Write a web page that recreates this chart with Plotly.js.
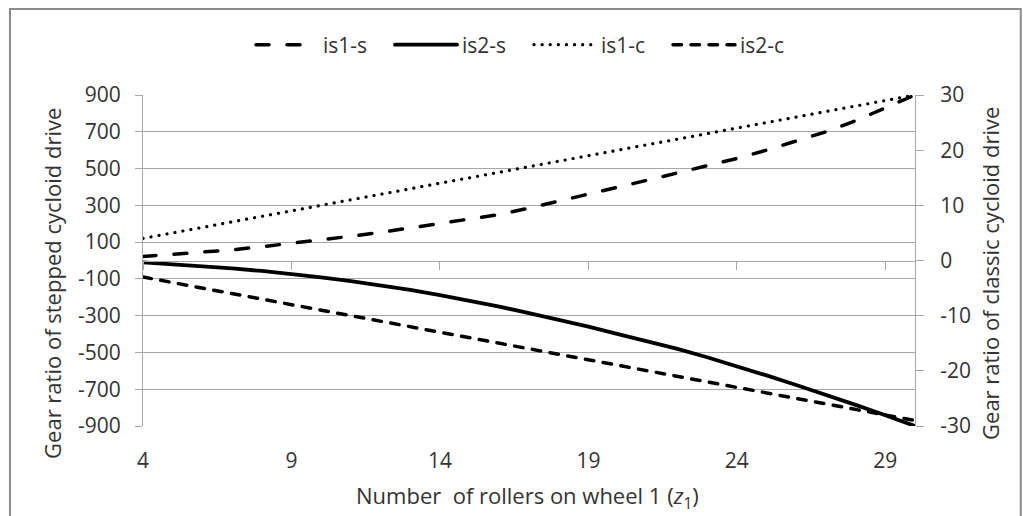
<!DOCTYPE html>
<html>
<head>
<meta charset="utf-8">
<script src="https://cdn.plot.ly/plotly-3.0.1.min.js"></script>
<style>
html,body{margin:0;padding:0;background:#fff;}
#chart{width:1023px;height:516px;}
path.js-line{stroke-linecap:round;}
</style>
</head>
<body>
<div id="chart"></div>
<script>
// Number of rollers on wheel 1 (z1)
const z1 = [4,5,6,7,8,9,10,11,12,13,14,15,16,17,18,19,20,21,22,23,24,25,26,27,28,29,30];
// stepped cycloid drive (left axis)
const is1s = [22,33,45,58,75,93,112,132,153,177,200,222,250,285,322,360,398,437,476,515,555,600,650,700,760,830,900];
const is2s = [-10,-20,-31,-43,-57,-73,-92,-112,-134,-160,-188,-218,-251,-286,-322,-360,-400,-440,-481,-526,-574,-625,-677,-730,-785,-842,-900];
// classic cycloid drive (right axis)
const is1c = [4,5,6,7,8,9,10,11,12,13,14,15,16,17,18,19,20,21,22,23,24,25,26,27,28,29,30];
const is2c = [-3,-4,-5,-6,-7,-8,-9,-10,-11,-12,-13,-14,-15,-16,-17,-18,-19,-20,-21,-22,-23,-24,-25,-26,-27,-28,-29];

const xTicks = [4,9,14,19,24,29];
const yLeftTicks = [-900,-700,-500,-300,-100,100,300,500,700,900];
const yLeftText = ["-900","-700","-500","-300","-100","100","300","500","700","900"];
const yRightTicks = [-30,-20,-10,0,10,20,30];
const yRightText = ["-30","-20","-10","0","10","20","30"];

const FONT = "Open Sans, Noto Sans, sans-serif";
const TXT = "#333333";
const GRID = "#a6a6a6";
const FS = 21;
const FT = 22;

const traces = [
  {x: z1, y: is1s, name: "is1-s", type: "scatter", mode: "lines", yaxis: "y",
   line: {color: "#000", width: 3.5, dash: "13px,18px"}},
  {x: z1, y: is2s, name: "is2-s", type: "scatter", mode: "lines", yaxis: "y",
   line: {color: "#000", width: 3.8}},
  {x: z1, y: is1c, name: "is1-c", type: "scatter", mode: "lines", yaxis: "y2",
   line: {color: "#000", width: 3.2, dash: "0.1px,8px"}},
  {x: z1, y: is2c, name: "is2-c", type: "scatter", mode: "lines", yaxis: "y2",
   line: {color: "#000", width: 3.5, dash: "8.5px,9.5px"}}
];

const layout = {
  width: 1023, height: 516,
  margin: {l: 143, r: 108, t: 95, b: 90, pad: 0},
  paper_bgcolor: "#fff", plot_bgcolor: "rgba(0,0,0,0)",
  font: {family: FONT, size: FS, color: TXT},
  showlegend: true,
  legend: {orientation: "h", x: 0.5, xanchor: "center", y: 1.151, yanchor: "middle",
           font: {family: FONT, size: FS, color: TXT}, itemwidth: 62,
           entrywidth: 62, entrywidthmode: "pixels", bgcolor: "rgba(0,0,0,0)"},
  xaxis: {range: [4, 30], tickvals: xTicks, ticktext: xTicks.map(String), showgrid: false,
          zeroline: false, showline: false, ticks: "", ticklabelstandoff: 20,
          tickfont: {family: FONT, size: FS, color: TXT}, fixedrange: true},
  xaxis2: {range: [4, 30], overlaying: "x", anchor: "free", position: 0.5, side: "bottom",
           tickvals: xTicks, showticklabels: false, ticks: "outside", ticklen: 8, tickwidth: 1,
           tickcolor: GRID, showline: true, linecolor: GRID, linewidth: 1, showgrid: false, zeroline: false},
  yaxis: {range: [-900, 900], tickvals: yLeftTicks, ticktext: yLeftText, showgrid: true, gridcolor: GRID, gridwidth: 1,
          zeroline: false, showline: true, linecolor: GRID, linewidth: 1, ticks: "outside",
          ticklen: 7, tickcolor: GRID, ticklabelstandoff: 10,
          tickfont: {family: FONT, size: FS, color: TXT}},
  yaxis2: {range: [-30, 30], tickvals: yRightTicks, ticktext: yRightText, overlaying: "y", side: "right", showgrid: false,
           zeroline: false, showline: true, linecolor: GRID, linewidth: 1, ticks: "outside",
           ticklen: 8, tickcolor: GRID, ticklabelstandoff: 12,
           tickfont: {family: FONT, size: FS, color: TXT}},
  annotations: [
    {text: "Gear ratio of stepped cycloid drive", xref: "paper", yref: "paper", x: -0.118, y: 0.432,
     xanchor: "center", yanchor: "middle",
     textangle: -90, showarrow: false, font: {family: FONT, size: FT, color: TXT}},
    {text: "Gear ratio of classic cycloid drive", xref: "paper", yref: "paper", x: 1.097, y: 0.462,
     xanchor: "center", yanchor: "middle",
     textangle: -90, showarrow: false, font: {family: FONT, size: FT, color: TXT}},
    {text: "Number\u00A0\u00A0of rollers on wheel 1 (<i>z</i><sub>1</sub>)", xref: "paper", yref: "paper",
     x: 0.4987, y: -0.2145, xanchor: "center", yanchor: "middle",
     showarrow: false, font: {family: FONT, size: FT, color: TXT}}
  ],
  shapes: [
    {type: "rect", xref: "paper", yref: "paper", x0: -0.1723, x1: 1.137, y0: -0.40, y1: 1.2598,
     line: {color: "#8c8c8c", width: 2}, fillcolor: "rgba(0,0,0,0)", layer: "below"}
  ]
};

// x axis with tick marks at the zero line
traces.push({x: [4, 30], y: [0, 0], xaxis: "x2", yaxis: "y", mode: "lines", showlegend: false,
             hoverinfo: "skip", line: {width: 0, color: "rgba(0,0,0,0)"}});

Plotly.newPlot("chart", traces, layout, {staticPlot: true, displayModeBar: false});
</script>
</body>
</html>
